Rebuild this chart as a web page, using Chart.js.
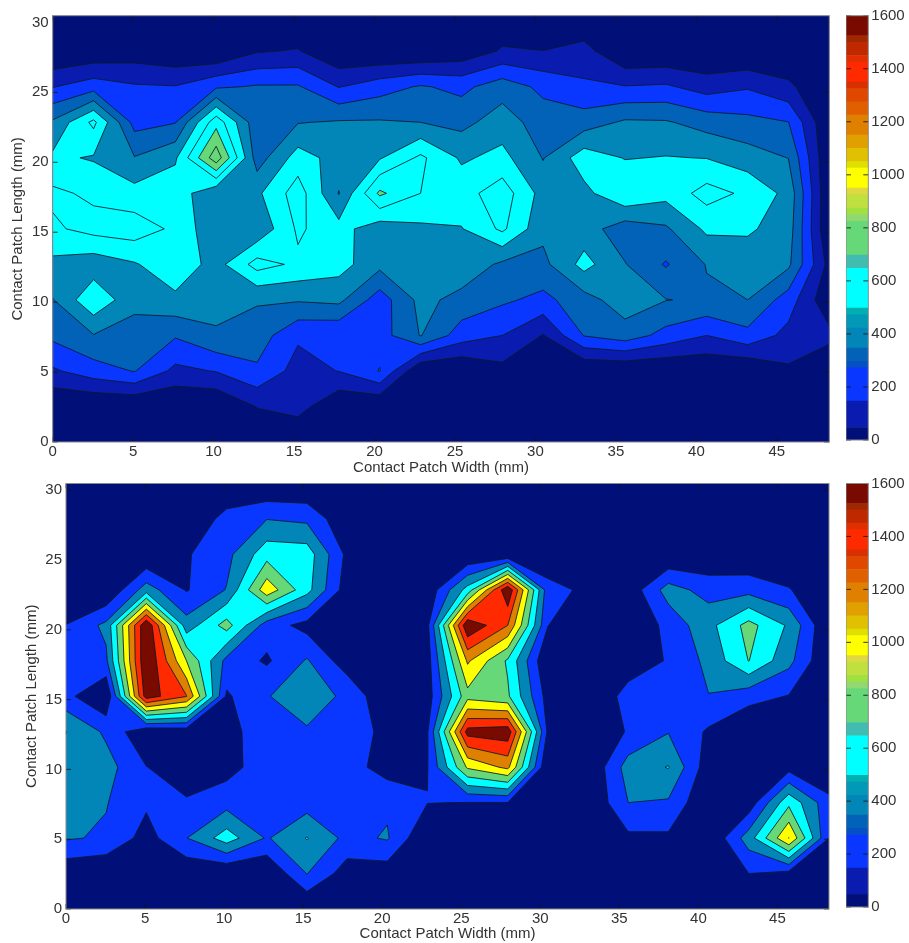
<!DOCTYPE html>
<html>
<head>
<meta charset="utf-8">
<title>Contact patch pressure</title>
<script src="https://cdn.jsdelivr.net/npm/chart.js@4"></script>
<style>
  html, body { margin: 0; padding: 0; background: #fff; }
  #page { position: relative; width: 909px; height: 943px; overflow: hidden; }
  canvas { position: absolute; filter: blur(0.5px); }
</style>
</head>
<body>
<div id="page">
  <canvas id="topMap" width="840" height="480" style="left:0;top:0"></canvas>
  <canvas id="topBar" width="63" height="452" style="left:846px;top:0"></canvas>
  <canvas id="bottomMap" width="840" height="473" style="left:0;top:470px"></canvas>
  <canvas id="bottomBar" width="63" height="449" style="left:846px;top:470px"></canvas>
</div>
<script>
// sensor positions in mm
const widthMm = [0, 2.54, 5.08, 7.62, 10.16, 12.7, 15.24, 17.78, 20.32, 22.86, 25.4, 27.94, 30.48, 33.02, 35.56, 38.1, 40.64, 43.18, 45.72, 48.26];
const lengthMm = [0, 2.54, 5.08, 7.62, 10.16, 12.7, 15.24, 17.78, 20.32, 22.86, 25.4, 27.94, 30.48];

// one line per width position, bottom to top
const topPressure = [
  [0, 3, 185, 323, 395, 474, 583, 620, 520, 415, 195, 0, 0],
  [0, 0, 255, 395, 580, 440, 635, 581, 490, 625, 255, 22, 0],
  [0, 0, 305, 357, 430, 490, 654, 537, 405, 263, 212, 45, 0],
  [0, 0, 174, 310, 477, 569, 580, 560, 485, 295, 205, 14, 0],
  [0, 0, 205, 388, 432, 460, 420, 410, 865, 665, 285, 0, 0],
  [0, 105, 283, 353, 410, 640, 420, 480, 350, 330, 310, 92, 0],
  [0, 141, 161, 215, 410, 580, 616, 651, 545, 395, 310, 108, 0],
  [0, 12, 203, 207, 425, 540, 537, 395, 460, 410, 195, 9, 0],
  [0, 0, 305, 255, 247, 429, 440, 720, 490, 410, 257, 0, 0],
  [0, 0, 2, 405, 430, 455, 480, 600, 620, 400, 310, 0, 0],
  [0, 0, 0, 250, 367, 470, 495, 560, 485, 370, 273, 30, 0],
  [0, 0, 68, 200, 317, 380, 620, 654, 530, 450, 356, 112, 25],
  [0, 0, 30, 95, 272, 373, 426, 460, 395, 350, 275, 102, 0],
  [0, 0, 0, 305, 360, 535, 445, 470, 555, 350, 218, 140, 0],
  [0, 0, 0, 355, 453, 405, 345, 590, 495, 415, 205, 0, 0],
  [0, 0, 0, 265, 403, 290, 385, 534, 505, 410, 215, 6, 0],
  [0, 0, 8, 200, 385, 405, 520, 640, 497, 360, 155, 0, 0],
  [0, 0, 0, 270, 400, 440, 516, 580, 447, 330, 190, 0, 0],
  [0, 20, 83, 168, 251, 420, 450, 470, 398, 302, 122, 10, 0],
  [0, 0, 10, 130, 19, 64, 0, 0, 0, 0, 0, 0, 0],
];

const bottomPressure = [
  [0, 43, 420, 460, 520, 605, 257, 240, 205, 0, 0, 0, 0],
  [0, 0, 375, 410, 480, 363, 0, 361, 450, 0, 0, 0, 0],
  [0, 0, 118, 232, 205, 20, 1705, 1800, 1790, 500, 0, 0, 0],
  [0, 33, 395, 223, 80, 60, 1410, 1000, 486, 185, 180, 0, 0],
  [0, 0, 700, 320, 124, 150, 170, 337, 885, 410, 340, 280, 0],
  [0, 5, 380, 280, 310, 281, 395, 170, 300, 1130, 723, 395, 0],
  [0, 405, 610, 310, 280, 390, 450, 420, 130, 670, 705, 358, 0],
  [0, 99, 340, 300, 290, 270, 380, 80, 0, 90, 150, 35, 0],
  [0, 82, 420, 366, 110, 165, 0, 0, 0, 0, 0, 0, 0],
  [0, 0, 0, 205, 190, 180, 100, 110, 150, 50, 0, 0, 0],
  [0, 0, 0, 195, 1030, 1680, 930, 1230, 1780, 680, 0, 0, 0],
  [0, 0, 0, 195, 1250, 1730, 830, 770, 1400, 1777, 0, 0, 0],
  [0, 0, 0, 0, 0, 160, 114, 0, 205, 275, 40, 0, 0],
  [0, 0, 0, 0, 0, 0, 0, 0, 0, 154, 0, 0, 0],
  [0, 0, 156, 400, 490, 220, 280, 85, 0, 60, 0, 0, 0],
  [0, 0, 162, 375, 610, 390, 300, 216, 265, 490, 0, 0, 0],
  [0, 0, 0, 0, 80, 170, 395, 454, 535, 320, 30, 0, 0],
  [0, 200, 500, 70, 0, 0, 275, 805, 870, 330, 20, 0, 0],
  [0, 127, 1205, 750, 120, 0, 190, 460, 570, 216, 0, 0, 0],
  [0, 0, 200, 262, 0, 0, 0, 0, 0, 0, 0, 0, 0],
];

const topLevels = [100, 200, 300, 400, 500, 600, 700, 800];
const bottomLevels = [200, 400, 600, 800, 1000, 1200, 1400, 1600];

// colour bar steps
const barEdges = [0, 47, 147, 272, 297, 347, 422, 472, 497, 647, 697, 825, 850, 875, 925, 950, 1025, 1050, 1100, 1150, 1225, 1275, 1325, 1350, 1425, 1450, 1500, 1525, 1600];
const barColors = ["#001078", "#0a1cb0", "#0a37ff", "#0450c4", "#0262b8", "#0286b8", "#0298b8", "#00b0b0", "#00ffff", "#40bdb0", "#66d878", "#90d870", "#a0e040", "#c0e040", "#e0d840", "#ffff00", "#e0e000", "#e0c000", "#e0a000", "#e08000", "#e06000", "#e04800", "#d83000", "#ff2a00", "#e03000", "#c02800", "#a02800", "#780a00"];

const fontFamily = "'Liberation Sans', Arial, sans-serif";
const textColor = "#333";

function colorFor(value) {
  for (let i = 0; i < barColors.length; i++) {
    if (value >= barEdges[i] && value < barEdges[i + 1]) return barColors[i];
  }
  return barColors[barColors.length - 1];
}

// inside-facing tick marks like the matlab axes
function drawTicks(ctx, scale, area, vertical) {
  ctx.strokeStyle = "rgba(20,20,20,0.85)";
  ctx.lineWidth = 1;
  ctx.beginPath();
  scale.ticks.forEach((tick) => {
    const p = scale.getPixelForValue(tick.value);
    if (vertical) {
      ctx.moveTo(area.left, p);
      ctx.lineTo(area.left + 5, p);
      ctx.moveTo(area.right, p);
      ctx.lineTo(area.right - 5, p);
    } else {
      ctx.moveTo(p, area.bottom);
      ctx.lineTo(p, area.bottom - 5);
      ctx.moveTo(p, area.top);
      ctx.lineTo(p, area.top + 5);
    }
  });
  ctx.stroke();
}

function crossing(a, b, level) {
  const t = (level - a.v) / (b.v - a.v);
  return { px: a.px + t * (b.px - a.px), py: a.py + t * (b.py - a.py) };
}

// Clips one grid cell against a level. Adds the part above it to the fill
// path and returns the contour segments that cross the cell.
function addCell(ctx, corners, level) {
  const above = corners.map((c) => c.v >= level);
  const segments = [];

  // saddle with a low centre: the two high corners stay apart
  const saddle = above[0] === above[2] && above[1] === above[3] && above[0] !== above[1];
  const centre = (corners[0].v + corners[1].v + corners[2].v + corners[3].v) / 4;
  if (saddle && centre < level) {
    for (let k = 0; k < 4; k++) {
      if (!above[k]) continue;
      const c = corners[k];
      const p = crossing(corners[(k + 3) % 4], c, level);
      const q = crossing(c, corners[(k + 1) % 4], level);
      ctx.moveTo(p.px, p.py);
      ctx.lineTo(c.px, c.py);
      ctx.lineTo(q.px, q.py);
      ctx.closePath();
      segments.push([p, q]);
    }
    return segments;
  }

  const crossings = [];
  let started = false;
  const put = (p) => {
    if (started) ctx.lineTo(p.px, p.py);
    else ctx.moveTo(p.px, p.py);
    started = true;
  };
  for (let k = 0; k < 4; k++) {
    const a = corners[k];
    const next = (k + 1) % 4;
    if (above[k]) put(a);
    if (above[k] !== above[next]) {
      const p = crossing(a, corners[next], level);
      p.leaving = above[k];
      put(p);
      crossings.push(p);
    }
  }
  if (started) ctx.closePath();
  crossings.forEach((p, i) => {
    if (p.leaving) segments.push([p, crossings[(i + 1) % crossings.length]]);
  });
  return segments;
}

const contourPlugin = {
  id: "contour",
  beforeDatasetsDraw(chart) {
    const { ctx, chartArea, scales } = chart;
    const grid = chart.data.datasets[0].grid;
    const levels = chart.data.datasets[0].levels;
    const point = (i, j) => ({
      px: scales.x.getPixelForValue(widthMm[i]),
      py: scales.y.getPixelForValue(lengthMm[j]),
      v: grid[i][j],
    });

    ctx.save();
    ctx.fillStyle = colorFor(0);
    ctx.fillRect(chartArea.left, chartArea.top, chartArea.width, chartArea.height);

    const lines = [];
    levels.forEach((level) => {
      ctx.beginPath();
      for (let i = 0; i < widthMm.length - 1; i++) {
        for (let j = 0; j < lengthMm.length - 1; j++) {
          const corners = [point(i, j), point(i + 1, j), point(i + 1, j + 1), point(i, j + 1)];
          lines.push(...addCell(ctx, corners, level));
        }
      }
      ctx.fillStyle = colorFor(level);
      ctx.fill();
    });

    ctx.strokeStyle = "rgba(10,25,40,0.85)";
    ctx.lineWidth = 1;
    ctx.lineJoin = "round";
    ctx.beginPath();
    lines.forEach(([p, q]) => {
      ctx.moveTo(p.px, p.py);
      ctx.lineTo(q.px, q.py);
    });
    ctx.stroke();
    ctx.restore();
  },
  afterDatasetsDraw(chart) {
    const { ctx, chartArea, scales } = chart;
    ctx.save();
    drawTicks(ctx, scales.x, chartArea, false);
    drawTicks(ctx, scales.y, chartArea, true);
    ctx.strokeStyle = "#8a8a8a";
    ctx.lineWidth = 1;
    ctx.strokeRect(chartArea.left, chartArea.top, chartArea.width, chartArea.height);
    ctx.restore();
  },
};

const barFramePlugin = {
  id: "barFrame",
  afterDatasetsDraw(chart) {
    const { ctx, chartArea, scales } = chart;
    ctx.save();
    drawTicks(ctx, scales.y, chartArea, true);
    ctx.strokeStyle = "#8a8a8a";
    ctx.lineWidth = 1;
    ctx.strokeRect(chartArea.left, chartArea.top, chartArea.width, chartArea.height);
    ctx.restore();
  },
};

function makeMap(id, pressure, levels, box) {
  const points = [];
  widthMm.forEach((x, i) => {
    lengthMm.forEach((y, j) => points.push({ x: x, y: y, v: pressure[i][j] }));
  });
  const tickFont = { family: fontFamily, size: 15 };
  const titleFont = { family: fontFamily, size: 15, lineHeight: 1.2 };
  return new Chart(document.getElementById(id), {
    type: "scatter",
    data: {
      datasets: [{ data: points, grid: pressure, levels: levels, pointRadius: 0, showLine: false }],
    },
    plugins: [contourPlugin],
    options: {
      responsive: false,
      animation: false,
      layout: { padding: { top: box.top, right: box.right, left: 0, bottom: 0 } },
      plugins: { legend: { display: false }, tooltip: { enabled: false } },
      scales: {
        x: {
          type: "linear",
          min: 0,
          max: 48.26,
          afterFit(scale) { scale.height = box.xHeight; },
          grid: { display: false, drawTicks: false },
          border: { display: false },
          ticks: { stepSize: 5, includeBounds: false, maxRotation: 0, autoSkip: false, padding: 1, color: textColor, font: tickFont },
          title: { display: true, text: "Contact Patch Width (mm)", color: textColor, font: titleFont, padding: { top: 0, bottom: box.titleBottom } },
        },
        y: {
          type: "linear",
          min: 0,
          max: 30.48,
          afterFit(scale) { scale.width = box.left; },
          grid: { display: false, drawTicks: false },
          border: { display: false },
          ticks: { stepSize: 5, includeBounds: false, autoSkip: false, padding: 4, color: textColor, font: tickFont },
          title: { display: true, text: "Contact Patch Length (mm)", color: textColor, font: titleFont, padding: { top: box.titleLeft, bottom: 0 } },
        },
      },
    },
  });
}

function makeBar(id, top, bottom) {
  const datasets = barColors.map((color, i) => ({
    data: [[barEdges[i], barEdges[i + 1]]],
    backgroundColor: color,
    borderWidth: 0,
    barPercentage: 1,
    categoryPercentage: 1,
  }));
  return new Chart(document.getElementById(id), {
    type: "bar",
    data: { labels: ["pressure"], datasets: datasets },
    plugins: [barFramePlugin],
    options: {
      responsive: false,
      animation: false,
      layout: { padding: { top: top, bottom: bottom, left: 0, right: 0 } },
      plugins: { legend: { display: false }, tooltip: { enabled: false } },
      scales: {
        x: { display: false, stacked: true },
        y: {
          position: "right",
          min: 0,
          max: 1600,
          afterFit(scale) { scale.width = 40.7; },
          grid: { display: false, drawTicks: false },
          border: { display: false },
          ticks: { stepSize: 200, padding: 3, color: textColor, font: { family: fontFamily, size: 15 }, callback: (value) => String(value) },
        },
      },
    },
  });
}

makeMap("topMap", topPressure, topLevels, { top: 15.7, right: 10.7, left: 52.7, xHeight: 38, titleBottom: 3, titleLeft: 9 });
makeBar("topBar", 15.7, 10);
makeMap("bottomMap", bottomPressure, bottomLevels, { top: 13.5, right: 11, left: 66, xHeight: 34, titleBottom: 0, titleLeft: 23 });
makeBar("bottomBar", 13.5, 10);
</script>
</body>
</html>
